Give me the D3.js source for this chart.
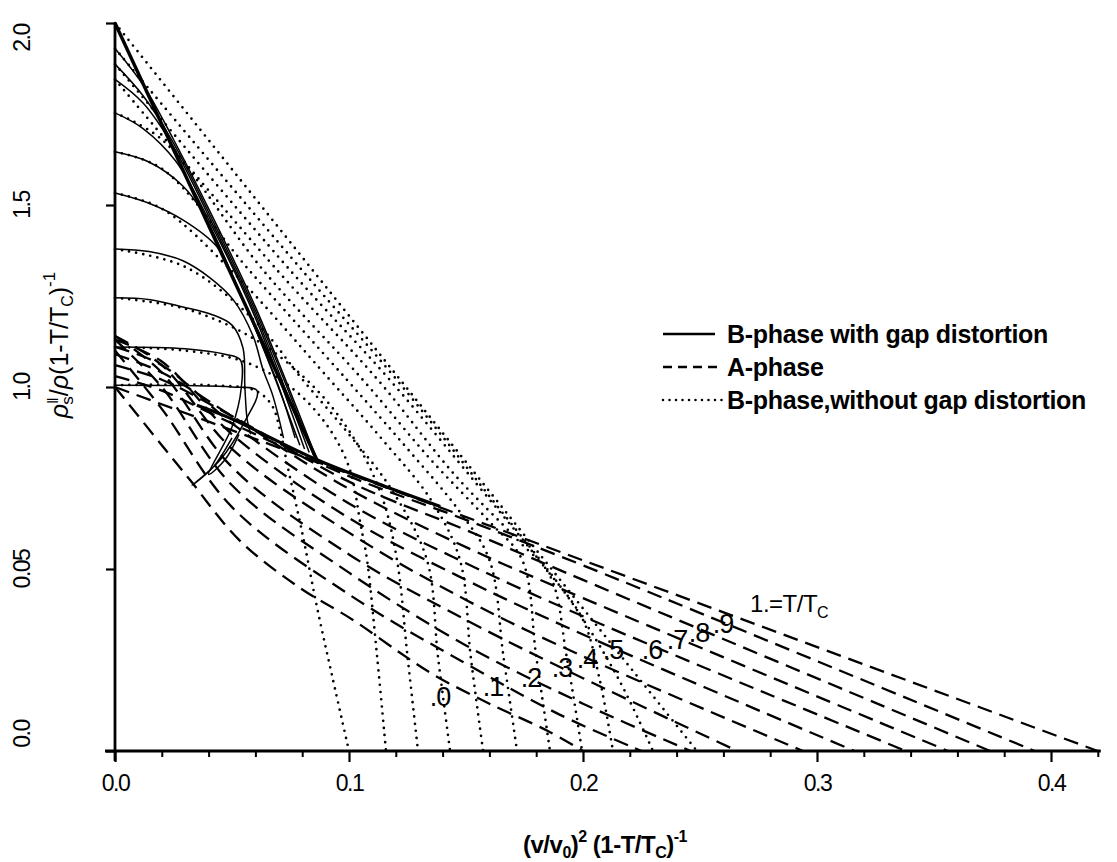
<!DOCTYPE html>
<html><head><meta charset="utf-8">
<script src="https://cdn.jsdelivr.net/npm/d3@7"></script>
<style>
body{margin:0;background:#fff;}
text{font-family:"Liberation Sans",Arial,sans-serif;fill:#000;}
</style></head><body>
<svg id="chart" width="1117" height="862"></svg>
<script>
// ---------- data ----------
const xTicks = [0, 0.1, 0.2, 0.3, 0.4];
const xTickLabels = ["0.0", "0.1", "0.2", "0.3", "0.4"];
const xMinorTicks = [0.02,0.04,0.06,0.08,0.12,0.14,0.16,0.18,0.22,0.24,0.26,0.28,0.32,0.34,0.36,0.38,0.42];
const yTicks = [0, 0.5, 1.0, 1.5, 2.0];
const yTickLabels = ["0.0", "0.05", "1.0", "1.5", "2.0"];

// T/Tc labels and their anchor points (data units)
const tempLabels = [".0", ".1", ".2", ".3", ".4", ".5", ".6", ".7", ".8", ".9"];
const tempLabelX = [0.1389, 0.1615, 0.1778, 0.191, 0.2017, 0.2128, 0.2295, 0.2402, 0.2496, 0.2598];
const tempLabelY = [0.148, 0.176, 0.201, 0.228, 0.253, 0.277, 0.277, 0.305, 0.324, 0.349];
const tcLabelPos = [0.2714, 0.407];

// B-phase without gap distortion (dotted), T/Tc = 0 ... 1
const dotB = [
  [[0,1.005],[0.04,1.005],[0.06,0.99],[0.067,0.95],[0.0705,0.882],[0.0735,0.79],[0.08,0.6],[0.0863,0.396],[0.093,0.2],[0.1,0]],
  [[0,1.11],[0.03,1.10],[0.055,1.07],[0.075,1.0],[0.09,0.9],[0.1,0.78],[0.105,0.62],[0.1077,0.525],[0.112,0.26],[0.1158,0]],
  [[0,1.245],[0.03,1.215],[0.06,1.13],[0.085,1.0],[0.102,0.86],[0.114,0.7],[0.1205,0.525],[0.125,0.26],[0.1295,0]],
  [[0,1.379],[0.03,1.33],[0.06,1.18],[0.0803,1.019],[0.1,0.87],[0.118,0.72],[0.1333,0.525],[0.138,0.26],[0.1432,0]],
  [[0,1.533],[0.02,1.49],[0.05,1.318],[0.0919,1.019],[0.115,0.85],[0.135,0.69],[0.1474,0.525],[0.152,0.26],[0.1573,0]],
  [[0,1.646],[0.02,1.6],[0.0577,1.318],[0.0992,1.019],[0.125,0.83],[0.147,0.66],[0.16,0.525],[0.166,0.26],[0.1718,0]],
  [[0,1.753],[0.02,1.68],[0.0637,1.318],[0.106,1.019],[0.135,0.8],[0.16,0.63],[0.174,0.525],[0.18,0.26],[0.1859,0]],
  [[0,1.845],[0.0697,1.318],[0.1124,1.019],[0.145,0.76],[0.172,0.58],[0.186,0.48],[0.193,0.26],[0.1996,0]],
  [[0,1.887],[0.0752,1.318],[0.1175,1.019],[0.155,0.73],[0.183,0.51],[0.2,0.36],[0.207,0.2],[0.2128,0]],
  [[0,1.93],[0.0803,1.318],[0.1205,1.019],[0.16,0.7],[0.195,0.41],[0.215,0.2],[0.2299,0]],
  [[0,2.0],[0.2487,0]]
];

// B-phase with gap distortion (solid), T/Tc = 0 ... 1
const solB = [
  [[0,1.005],[0.03,1.004],[0.05,1.0],[0.0607,0.99],[0.055,0.9],[0.045,0.8],[0.033,0.73],[0.042,0.78],[0.05,0.86]],
  [[0,1.11],[0.03,1.105],[0.047,1.09],[0.0535,1.075],[0.054,1.0],[0.05,0.89],[0.04,0.76],[0.047,0.8],[0.053,0.87]],
  [[0,1.245],[0.015,1.24],[0.029,1.22],[0.041,1.20],[0.05,1.17],[0.0547,1.107],[0.0555,1.0],[0.0565,0.91],[0.058,0.87]],
  [[0,1.379],[0.0145,1.372],[0.029,1.347],[0.0406,1.30],[0.0505,1.24],[0.059,1.14],[0.0632,1.049],[0.0675,0.975],[0.072,0.86]],
  [[0,1.533],[0.0145,1.505],[0.029,1.459],[0.0436,1.385],[0.049,1.318],[0.06,1.16],[0.07,1.0],[0.077,0.86]],
  [[0,1.646],[0.0145,1.618],[0.029,1.552],[0.0376,1.478],[0.05,1.31],[0.065,1.08],[0.079,0.84]],
  [[0,1.753],[0.012,1.71],[0.026,1.62],[0.04,1.46],[0.06,1.19],[0.081,0.83]],
  [[0,1.845],[0.012,1.78],[0.025,1.66],[0.04,1.47],[0.06,1.2],[0.083,0.82]],
  [[0,1.887],[0.012,1.8],[0.025,1.67],[0.04,1.48],[0.06,1.21],[0.085,0.81]],
  [[0,1.93],[0.012,1.83],[0.025,1.68],[0.04,1.49],[0.06,1.22],[0.0863,0.80]],
  [[0,2.0],[0.087,0.79]]
];
// heavy B/A boundary where the solid curves end
const envB = [[0.035,0.95],[0.0479,0.918],[0.0863,0.80],[0.115,0.728],[0.139,0.672]];

// A-phase (dashed), T/Tc = 0 ... 1
const dashA = [
  [[0,1.0],[0.02,0.84],[0.032,0.745],[0.053,0.58],[0.0786,0.45],[0.1017,0.36],[0.1218,0.27],[0.136,0.21],[0.16,0.13],[0.185,0.055],[0.2,0]],
  [[0,1.10],[0.02,0.94],[0.05,0.67],[0.1,0.43],[0.15,0.24],[0.19,0.1],[0.225,0]],
  [[0,1.13],[0.02,1.0],[0.05,0.73],[0.1,0.49],[0.15,0.29],[0.2,0.13],[0.246,0]],
  [[0,1.14],[0.02,1.04],[0.05,0.78],[0.1,0.54],[0.15,0.36],[0.2,0.2],[0.266,0]],
  [[0,1.14],[0.02,1.06],[0.05,0.83],[0.1,0.6],[0.15,0.415],[0.2,0.26],[0.294,0]],
  [[0,1.13],[0.02,1.07],[0.05,0.87],[0.1,0.64],[0.15,0.47],[0.2,0.32],[0.316,0]],
  [[0,1.11],[0.02,1.06],[0.05,0.9],[0.1,0.68],[0.15,0.516],[0.2,0.37],[0.338,0]],
  [[0,1.09],[0.02,1.04],[0.05,0.92],[0.1,0.72],[0.15,0.56],[0.2,0.42],[0.356,0]],
  [[0,1.06],[0.02,1.02],[0.05,0.92],[0.1,0.74],[0.15,0.607],[0.2,0.47],[0.374,0]],
  [[0,1.03],[0.02,0.99],[0.05,0.9],[0.1,0.755],[0.15,0.635],[0.2,0.51],[0.393,0]],
  [[0,1.0],[0.42,0]]
];

const legendItems = ["B-phase  with gap distortion", "A-phase", "B-phase,without gap distortion"];

// ---------- drawing ----------
const svg = d3.select("#chart");
const x = d3.scaleLinear().domain([0, 0.4]).range([115, 1051]);
const y = d3.scaleLinear().domain([0, 2]).range([751, 23]);
const line = d3.line().x(d => x(d[0])).y(d => y(d[1])).curve(d3.curveCatmullRom.alpha(0.5));
const tickFont = '"Liberation Sans","Arial",sans-serif';

const plot = svg.append("g");

plot.selectAll(".dot").data(dotB).join("path")
  .attr("d", line).attr("fill", "none").attr("stroke", "#000")
  .attr("stroke-width", 2.7).attr("stroke-linecap", "round").attr("stroke-dasharray", "0,7.2");

plot.selectAll(".dash").data(dashA).join("path")
  .attr("d", line).attr("fill", "none").attr("stroke", "#000")
  .attr("stroke-width", 2.3).attr("stroke-dasharray", "15,8");

plot.selectAll(".sol").data(solB).join("path")
  .attr("d", line).attr("fill", "none").attr("stroke", "#000")
  .attr("stroke-width", (d, i) => i === solB.length - 1 ? 3.4 : 1.5);
plot.append("path").datum(envB).attr("d", line).attr("fill", "none")
  .attr("stroke", "#000").attr("stroke-width", 3.2);

// axes
const xAxis = d3.axisBottom(x).tickValues(xTicks).tickSize(11).tickPadding(13)
  .tickFormat((d, i) => xTickLabels[i]);
const gx = svg.append("g").attr("transform", `translate(0,${y(0)})`).call(xAxis);
gx.select(".domain").remove();
gx.selectAll("line").attr("stroke-width", 2.2);
gx.selectAll("text").attr("font-size", 23).attr("font-family", tickFont).attr("letter-spacing", -1.5);
const gxm = svg.append("g").attr("transform", `translate(0,${y(0)})`)
  .call(d3.axisBottom(x).tickValues(xMinorTicks).tickSize(6).tickFormat(""));
gxm.select(".domain").remove();
gxm.selectAll("line").attr("stroke-width", 2);
svg.append("line").attr("x1", x(0) - 10).attr("x2", x(0.42) + 3)
  .attr("y1", y(0)).attr("y2", y(0)).attr("stroke", "#000").attr("stroke-width", 2.8);

const gy = svg.append("g").attr("transform", `translate(${x(0)},0)`)
  .call(d3.axisLeft(y).tickValues(yTicks).tickSize(9).tickFormat(""));
gy.select(".domain").remove();
gy.selectAll("line").attr("stroke-width", 2.2);
svg.append("line").attr("x1", x(0)).attr("x2", x(0))
  .attr("y1", y(2)).attr("y2", y(0) + 10).attr("stroke", "#000").attr("stroke-width", 2.8);

yTicks.forEach((v, i) => {
  const cy = Math.min(Math.max(y(v), y(2) + 15), y(0) - 17);
  svg.append("text").attr("transform", `translate(30,${cy}) rotate(-90)`)
    .attr("text-anchor", "middle").attr("font-size", 23)
    .attr("font-family", tickFont).attr("letter-spacing", -1.5)
    .text(yTickLabels[i]);
});

// axis titles
const xt = svg.append("text").attr("x", 605).attr("y", 853).attr("text-anchor", "middle")
  .attr("font-size", 24).attr("font-weight", "bold").attr("letter-spacing", -0.5);
xt.append("tspan").text("(v/v");
xt.append("tspan").attr("font-size", 16).attr("dy", 5).text("0");
xt.append("tspan").attr("dy", -5).text(")");
xt.append("tspan").attr("font-size", 16).attr("dy", -11).text("2");
xt.append("tspan").attr("dy", 11).text("  (1-T/T");
xt.append("tspan").attr("font-size", 16).attr("dy", 5).text("C");
xt.append("tspan").attr("dy", -5).text(")");
xt.append("tspan").attr("font-size", 16).attr("dy", -11).text("-1");

const yt = svg.append("text").attr("transform", "translate(68,345) rotate(-90)")
  .attr("text-anchor", "middle").attr("font-size", 25);
yt.append("tspan").attr("font-style", "italic").text("ρ");
yt.append("tspan").attr("font-size", 15).attr("dy", -10).text("‖");
yt.append("tspan").attr("font-size", 17).attr("dx", -7).attr("dy", 15).text("s");
yt.append("tspan").attr("dy", -5).text("/");
yt.append("tspan").attr("font-style", "italic").text("ρ");
yt.append("tspan").text("(1-T/T");
yt.append("tspan").attr("font-size", 16).attr("dy", 5).text("C");
yt.append("tspan").attr("dy", -5).text(")");
yt.append("tspan").attr("font-size", 17).attr("dy", -13).text("-1");

// T/Tc labels
tempLabels.forEach((t, i) => {
  svg.append("text").attr("x", x(tempLabelX[i])).attr("y", y(tempLabelY[i]))
    .attr("text-anchor", "middle").attr("dominant-baseline", "central")
    .attr("font-size", 27).attr("font-family", tickFont).attr("letter-spacing", -1)
    .text(t);
});
const tcl = svg.append("text").attr("x", x(tcLabelPos[0])).attr("y", y(tcLabelPos[1]) + 9)
  .attr("font-size", 24).attr("font-family", tickFont).attr("letter-spacing", -0.5);
tcl.append("tspan").text("1.=T/T");
tcl.append("tspan").attr("font-size", 16).attr("dy", 6).text("C");

// legend
const lg = svg.append("g").attr("transform", "translate(663,334)");
const dashes = [null, "9,6", "0,6.5"];
const ends = [52, 60, 62];
legendItems.forEach((s, i) => {
  const row = lg.append("g").attr("transform", `translate(0,${i * 33})`);
  row.append("line").attr("x1", 0).attr("x2", ends[i]).attr("y1", 0).attr("y2", 0)
    .attr("stroke", "#000").attr("stroke-width", i === 2 ? 2.6 : 2.4)
    .attr("stroke-linecap", i === 2 ? "round" : "butt")
    .attr("stroke-dasharray", dashes[i]);
  row.append("text").attr("x", 64).attr("y", 0).attr("dominant-baseline", "central")
    .attr("font-size", 25).attr("font-weight", "bold").attr("letter-spacing", -0.3).text(s);
});
</script>
</body></html>
